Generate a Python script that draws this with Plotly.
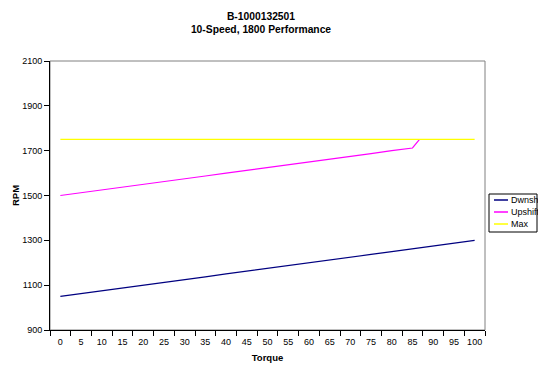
import plotly.graph_objects as go

# ---- data ----
torque = [0, 5, 10, 15, 20, 25, 30, 35, 40, 45, 50, 55, 60, 65, 70, 75, 80, 85, 90, 95, 100]
dwnshift = [1050, 1062, 1075, 1087, 1100, 1112, 1125, 1137, 1150, 1162, 1175,
            1187, 1200, 1212, 1225, 1237, 1250, 1262, 1275, 1287, 1300]
upshift_torque = [0, 5, 10, 15, 20, 25, 30, 35, 40, 45, 50, 55, 60, 65, 70, 75, 80, 85, 86.7]
upshift = [1500, 1512, 1525, 1537, 1550, 1562, 1575, 1587, 1600, 1612, 1625,
           1637, 1650, 1662, 1675, 1687, 1700, 1712, 1750]
max_rpm = [1750] * len(torque)
series_names = ["Dwnshft", "Upshift", "Max"]
series_colors = ["#000080", "#FF00FF", "#FFFF00"]
y_ticks = [900, 1100, 1300, 1500, 1700, 1900, 2100]

W, H = 544, 373
L, R, T, B = 50, 485, 61, 330  # plot area in px
FONT = "Arial, Liberation Sans, sans-serif"

fig = go.Figure()
fig.add_trace(go.Scatter(x=torque, y=dwnshift, mode="lines", name=series_names[0],
                         line=dict(color=series_colors[0], width=1.2)))
fig.add_trace(go.Scatter(x=upshift_torque, y=upshift, mode="lines", name=series_names[1],
                         line=dict(color=series_colors[1], width=1.2)))
fig.add_trace(go.Scatter(x=torque, y=max_rpm, mode="lines", name=series_names[2],
                         line=dict(color=series_colors[2], width=1.3)))


def px_x(p):
    return (p - L) / (R - L)


def px_y(p):
    return (B - p) / (B - T)


shapes = [
    # gray plot border
    dict(type="rect", xref="paper", yref="paper", x0=0, x1=1, y0=0, y1=1,
         line=dict(color="#808080", width=1), layer="below"),
    # legend box
    dict(type="rect", xref="paper", yref="paper", x0=px_x(489), x1=px_x(537),
         y0=px_y(232), y1=px_y(194), line=dict(color="black", width=1),
         fillcolor="white"),
]
annotations = []
legend_y = [200, 212, 224]
for name, col, ly in zip(series_names, series_colors, legend_y):
    shapes.append(dict(type="line", xref="paper", yref="paper",
                       x0=px_x(494), x1=px_x(508), y0=px_y(ly), y1=px_y(ly),
                       line=dict(color=col, width=1.5)))
    annotations.append(dict(text=name, xref="paper", yref="paper",
                            x=px_x(510), y=px_y(ly), xanchor="left", yanchor="middle",
                            showarrow=False, width=27, align="left", borderpad=0,
                            font=dict(family=FONT, size=9, color="black")))

fig.update_layout(
    width=W, height=H,
    margin=dict(l=L, r=W - R, t=T, b=H - B, autoexpand=False),
    paper_bgcolor="white", plot_bgcolor="white",
    showlegend=False,
    font=dict(family=FONT, size=9, color="black"),
    title=dict(text="<b>B-1000132501<br>10-Speed, 1800 Performance</b>",
               x=261 / W, xanchor="center", xref="container",
               y=1 - 20 / H, yanchor="top", yref="container",
               font=dict(family=FONT, size=10.3, color="black"), automargin=False),
    shapes=shapes,
    annotations=annotations,
)
fig.update_xaxes(
    range=[-2.5, 102.5], tickvals=torque, ticktext=[str(t) for t in torque],
    ticks="", showgrid=False, zeroline=False, automargin=False,
    showline=True, linecolor="black", linewidth=1,
    minor=dict(tickvals=[t - 2.5 for t in torque] + [102.5], ticks="outside",
               ticklen=5, tickcolor="black", showgrid=False),
    tickfont=dict(family=FONT, size=9), ticklabelstandoff=3,
    title=dict(text="<b>Torque</b>", font=dict(family=FONT, size=9.5), standoff=8),
)
fig.update_yaxes(
    range=[900, 2100], tickvals=y_ticks, ticks="outside", ticklen=5, tickcolor="black",
    showgrid=False, zeroline=False, showline=True, linecolor="black", linewidth=1,
    automargin=False,
    tickfont=dict(family=FONT, size=9),
    title=dict(text="<b>RPM</b>", font=dict(family=FONT, size=9.5), standoff=0),
)

fig.write_html("out.html", config={"displayModeBar": False})

# remove the browser's default 8px page margin so the figure sits at the top-left corner
with open("out.html", "r", encoding="utf-8") as f:
    html = f.read()
html = html.replace("<head>", "<head><style>html,body{margin:0;padding:0;}</style>", 1)
with open("out.html", "w", encoding="utf-8") as f:
    f.write(html)
